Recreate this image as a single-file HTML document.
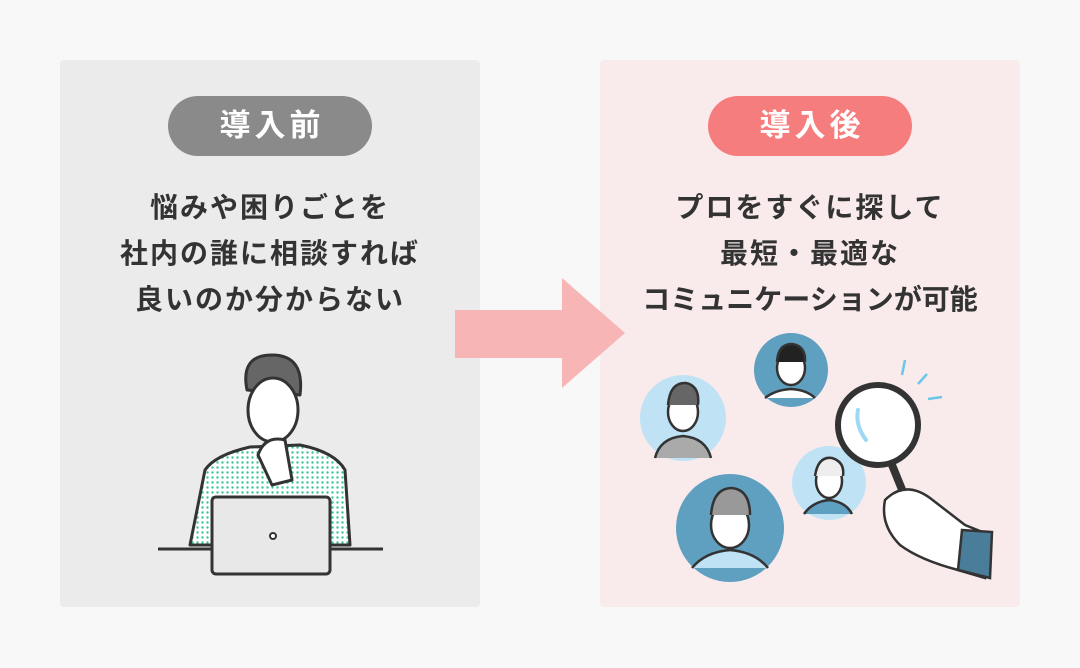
<!DOCTYPE html>
<html><head><meta charset="utf-8"><style>
body{margin:0;width:1080px;height:668px;background:#f8f8f8;font-family:"Liberation Sans","Noto Sans CJK JP",sans-serif;position:relative;overflow:hidden}
.p{position:absolute;top:60px;width:420px;height:547px;border-radius:4px}
.pill{position:absolute;top:96px;width:204px;height:60px;border-radius:30px;color:#fff;font-size:31px;font-weight:bold;text-align:center;line-height:60px;letter-spacing:4px;text-indent:4px}
.t{position:absolute;top:185px;width:420px;text-align:center;font-size:28px;font-weight:bold;color:#333;line-height:46px;letter-spacing:2px}
</style></head><body>
<div class="p" style="left:60px;background:#ebebeb"></div>
<div class="p" style="left:600px;background:#f9ebec"></div>
<div class="pill" style="left:168px;background:#8a8a8a">導入前</div>
<div class="pill" style="left:708px;background:#f67d7d">導入後</div>
<div class="t" style="left:60px">悩みや困りごとを<br>社内の誰に相談すれば<br>良いのか分からない</div>
<div class="t" style="left:600px">プロをすぐに探して<br>最短・最適な<br><span style="letter-spacing:0">コミュニケーションが可能</span></div>
<svg width="1080" height="668" style="position:absolute;left:0;top:0">
<defs><pattern id="d" width="5" height="5" patternUnits="userSpaceOnUse"><rect width="5" height="5" fill="#fff"/><circle cx="2.5" cy="2.5" r="1.2" fill="#3cc49a"/></pattern></defs>
<polygon points="455,310 562,310 562,278 625,333 562,388 562,358 455,358" fill="#f7b5b5"/>
<g stroke="#333" stroke-width="3" stroke-linejoin="round">
<path d="M190,545 L205,470 Q215,455 250,447 L300,445 Q335,452 345,470 L350,545 Z" fill="url(#d)"/>
<path d="M247,390 Q240,355 272,355 Q305,355 300,395 Z" fill="#666"/>
<ellipse cx="273" cy="410" rx="25" ry="32" fill="#fff"/>
<path d="M258,455 Q265,435 285,440 L292,480 L272,485 Z" fill="#fff"/>
<rect x="212" y="497" width="118" height="77" rx="4" fill="#e8e8e8"/>
<line x1="158" y1="549" x2="212" y2="549"/><line x1="330" y1="549" x2="383" y2="549"/>
<circle cx="273" cy="536" r="3" fill="#fff" stroke-width="2"/>
</g>
<g stroke="#333" stroke-width="2.5">
<circle cx="683" cy="418" r="43" fill="#bfe3f5" stroke="none"/>
<circle cx="791" cy="370" r="37" fill="#5f9fbf" stroke="none"/>
<circle cx="730" cy="528" r="54" fill="#5f9fbf" stroke="none"/>
<circle cx="829" cy="483" r="37" fill="#bfe3f5" stroke="none"/>
<ellipse cx="683" cy="412" rx="15" ry="19" fill="#fff"/><path d="M668,405 Q670,382 686,383 Q700,386 698,405" fill="#666"/>
<path d="M655,458 Q660,438 683,436 Q706,438 711,458" fill="#aaa"/>
<ellipse cx="791" cy="368" rx="14" ry="17" fill="#fff"/><path d="M777,362 Q778,344 792,344 Q806,346 805,362" fill="#222"/>
<path d="M765,398 Q775,390 791,389 Q807,390 815,398" fill="#fff"/>
<ellipse cx="730" cy="525" rx="19" ry="23" fill="#fff"/><path d="M711,515 Q713,488 732,488 Q750,490 750,515" fill="#999"/>
<path d="M692,568 Q705,552 730,550 Q755,552 768,568" fill="#bfe3f5"/>
<ellipse cx="829" cy="481" rx="13" ry="17" fill="#fff"/><path d="M815,476 Q818,456 832,458 Q845,462 843,476" fill="#eee"/>
<path d="M804,514 Q812,502 829,500 Q846,502 852,514" fill="#5f9fbf"/>
<line x1="890" y1="460" x2="903" y2="492" stroke-width="8"/>
<circle cx="878" cy="425" r="40" fill="#fff" stroke-width="6"/>
<path d="M885,500 Q905,480 930,498 L965,525 L990,535 L985,578 L958,570 Q920,560 900,545 Q880,525 885,500Z" fill="#fff"/>
<path d="M962,530 L992,532 L990,578 L958,570Z" fill="#4a7d9a"/>
</g>
<path d="M858,410 Q855,425 866,440" stroke="#9fd8f2" stroke-width="4" fill="none" stroke-linecap="round"/>
<g stroke="#6bc6ea" stroke-width="2.5"><line x1="905" y1="360" x2="902" y2="375"/><line x1="927" y1="374" x2="918" y2="384"/><line x1="942" y1="397" x2="928" y2="399"/></g>
</svg>
</body></html>
